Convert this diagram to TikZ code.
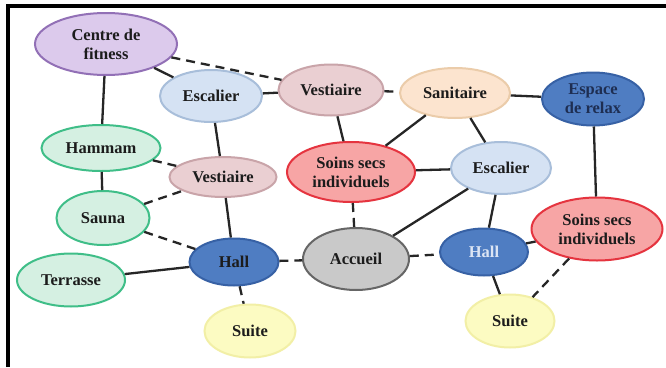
\documentclass[tikz,border=0pt]{standalone}
\usepackage{fontspec}
\setmainfont{Liberation Serif}
\usetikzlibrary{shapes.geometric}
\definecolor{purF}{HTML}{DCCAEC}\definecolor{purB}{HTML}{9270B6}
\definecolor{lbF}{HTML}{D5E2F3}\definecolor{lbB}{HTML}{A8BEDA}
\definecolor{pkF}{HTML}{EACFD2}\definecolor{pkB}{HTML}{C9A4A9}
\definecolor{peF}{HTML}{FCE4CF}\definecolor{peB}{HTML}{EBCCAA}
\definecolor{dbF}{HTML}{4F7DC2}\definecolor{dbB}{HTML}{3761A5}
\definecolor{grF}{HTML}{D5F0E2}\definecolor{grB}{HTML}{3FBE88}
\definecolor{rdF}{HTML}{F7A5A5}\definecolor{rdB}{HTML}{E5343F}
\definecolor{gyF}{HTML}{C9C9C9}\definecolor{gyB}{HTML}{666666}
\definecolor{ywF}{HTML}{FCFBC2}\definecolor{ywB}{HTML}{F2EFA6}
\definecolor{txt}{HTML}{1C1C1C}
\definecolor{navy}{HTML}{1E2E52}
\definecolor{hallw}{HTML}{DCE5F4}
\begin{document}
\begin{tikzpicture}[x=1pt,y=-1pt,
  room/.style={ellipse,draw,line width=2pt,inner sep=0pt,align=center,
    font=\fontsize{16.5}{19}\selectfont\bfseries,text=txt},
  purp/.style={room,fill=purF,draw=purB},
  lblue/.style={room,fill=lbF,draw=lbB},
  pink/.style={room,fill=pkF,draw=pkB},
  peach/.style={room,fill=peF,draw=peB},
  dblue/.style={room,fill=dbF,draw=dbB},
  green/.style={room,fill=grF,draw=grB},
  redn/.style={room,fill=rdF,draw=rdB},
  gray/.style={room,fill=gyF,draw=gyB},
  yell/.style={room,fill=ywF,draw=ywB},
  sz/.style 2 args={minimum width=#1pt,minimum height=#2pt},
  link/.style={line width=2.3pt,draw=black!85},
  dlink/.style={link,dash pattern=on 9pt off 6pt}]
\useasboundingbox (0,0) rectangle (666,367);
\fill[white] (0,0) rectangle (666,367);
% frame
\draw[line width=4pt] (8,367) -- (8,6) -- (666,6);
% nodes
\node[purp,sz={142}{62}] (fit) at (106,44) {Centre de\\fitness};
\node[lblue,sz={102}{52}] (escL) at (211,96) {Escalier};
\node[pink,sz={105}{51}] (vesT) at (331,90) {Vestiaire};
\node[peach,sz={110}{50}] (san) at (455,93) {Sanitaire};
\node[dblue,sz={102}{53},text=navy] (rel) at (593,99) {Espace\\de relax};
\node[green,sz={119}{46}] (ham) at (101,148) {Hammam};
\node[pink,sz={107}{40}] (vesM) at (223,177) {Vestiaire};
\node[redn,sz={128}{60}] (soC) at (351,172) {Soins secs\\individuels};
\node[lblue,sz={100}{52}] (escR) at (501,168) {Escalier};
\node[green,sz={93}{54}] (sau) at (103,218) {Sauna};
\node[redn,sz={131}{63}] (soR) at (597,229) {Soins secs\\individuels};
\node[green,sz={108}{53}] (ter) at (71,280) {Terrasse};
\node[dblue,sz={89}{47}] (hallL) at (234,262) {Hall};
\node[gray,sz={106}{62}] (acc) at (356,259) {Accueil};
\node[dblue,sz={88}{47},text=hallw] (hallR) at (484,252) {Hall};
\node[yell,sz={91}{53}] (suL) at (250,331) {Suite};
\node[yell,sz={89}{53}] (suR) at (510,321) {Suite};
% links
\draw[link] (fit) -- (ham);
\draw[link] (fit) -- (escL);
\draw[dlink] (fit) -- (vesT);
\draw[link] (escL) -- (vesT);
\draw[link] (escL) -- (vesM);
\draw[dlink] (vesT) -- (san);
\draw[link] (vesT) -- (soC);
\draw[link] (san) -- (rel);
\draw[link] (san) -- (soC);
\draw[link] (san) -- (escR);
\draw[link] (soC) -- (escR);
\draw[dlink] (soC) -- (acc);
\draw[link] (rel) -- (soR);
\draw[dlink] (ham) -- (vesM);
\draw[link] (ham) -- (sau);
\draw[dlink] (sau) -- (vesM);
\draw[dlink] (sau) -- (hallL);
\draw[link] (vesM) -- (hallL);
\draw[link] (ter) -- (hallL);
\draw[dlink] (hallL) -- (acc);
\draw[dlink] (hallL) -- (suL);
\draw[link] (acc) -- (escR);
\draw[dlink] (acc) -- (hallR);
\draw[link] (escR) -- (hallR);
\draw[link] (hallR) -- (soR);
\draw[link] (hallR) -- (suR);
\draw[dlink] (soR) -- (suR);
\end{tikzpicture}
\end{document}
